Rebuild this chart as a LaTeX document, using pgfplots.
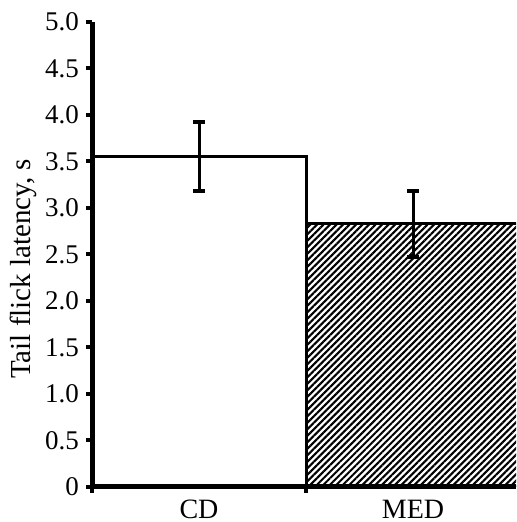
\documentclass[border=0pt]{standalone}
\usepackage{fontspec}
\setmainfont{Liberation Serif}
\usepackage{pgfplots}
\pgfplotsset{compat=1.18}
\usetikzlibrary{patterns.meta}
\begin{document}
\begin{tikzpicture}
\begin{axis}[
  name=ax,
  scale only axis,
  width=212pt, height=232.5pt,
  xmin=-0.5, xmax=1.481,
  ymin=0, ymax=5,
  axis lines=left,
  axis line style={line width=2.5pt, -},
  axis on top,
  ytick={0,0.5,1,1.5,2,2.5,3,3.5,4,4.5,5},
  yticklabels={0,0.5,1.0,1.5,2.0,2.5,3.0,3.5,4.0,4.5,5.0},
  xtick={0,1},
  xticklabels={CD,MED},
  minor xtick={-0.5,0.5},
  tick align=outside,
  major tick length=3pt,
  minor tick length=3pt,
  y tick style={line width=2pt, black},
  major x tick style={draw=none},
  minor x tick style={line width=2pt, black},
  yticklabel style={font=\fontsize{13.5}{15}\selectfont},
  xticklabel style={font=\fontsize{14}{16}\selectfont},
  /pgf/number format/assume math mode=true,
  ylabel={Tail flick latency, s},
  ylabel style={font=\fontsize{14.5}{16}\selectfont, at={(ticklabel cs:0.469,-2.5pt)}},
  ybar,
  bar width=1,
  bar shift=0pt,
]
\addplot[draw=black, line width=1.5pt, fill=white,
  error bars/.cd, y dir=both, y explicit,
  error bar style={line width=1.5pt, black},
  error mark options={rotate=90, mark size=3pt, line width=2pt, black}]
  coordinates {(0,3.55) +- (0,0.37)};
\addplot[draw=black, line width=1.5pt,
  pattern={Lines[angle=45, distance=2.3pt, line width=1.05pt]},
  error bars/.cd, y dir=both, y explicit,
  error bar style={line width=1.5pt, black},
  error mark options={rotate=90, mark size=3pt, line width=2pt, black}]
  coordinates {(1,2.83) +- (0,0.355)};
\end{axis}
\pgfresetboundingbox
\path (ax.south west) ++(-46pt,-17.5pt) rectangle ++(258pt,261pt);
\end{tikzpicture}
\end{document}
